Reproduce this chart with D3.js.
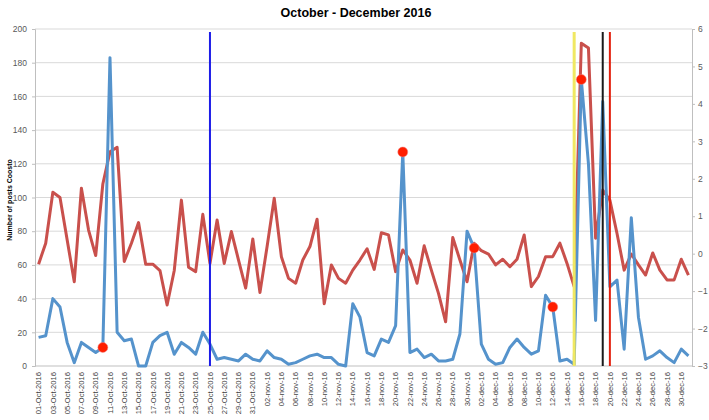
<!DOCTYPE html>
<html>
<head>
<meta charset="utf-8">
<script src="https://cdn.jsdelivr.net/npm/d3@7"></script>
<style>
body { margin: 0; background: #fff; }
text { font-family: "Liberation Sans", Arial, sans-serif; }
</style>
</head>
<body>
<script>
// Chart size
var width = 709;
var height = 420;

// Categories: every day from 1 Oct to 31 Dec 2016
var dayFormat = d3.timeFormat("%Y-%m-%d");
var days = d3.timeDay.range(new Date(2016, 9, 1), new Date(2017, 0, 1)).map(dayFormat);

// Tick labels (every second day)
var tickLabels = [
    "01-Oct-2016", "03-Oct-2016", "05-Oct-2016", "07-Oct-2016", "09-Oct-2016", "11-Oct-2016",
    "13-Oct-2016", "15-Oct-2016", "17-Oct-2016", "19-Oct-2016", "21-Oct-2016", "23-Oct-2016",
    "25-Oct-2016", "27-Oct-2016", "29-Oct-2016", "31-Oct-2016",
    "02-nov-16", "04-nov-16", "06-nov-16", "08-nov-16", "10-nov-16", "12-nov-16", "14-nov-16",
    "16-nov-16", "18-nov-16", "20-nov-16", "22-nov-16", "24-nov-16", "26-nov-16", "28-nov-16", "30-nov-16",
    "02-dec-16", "04-dec-16", "06-dec-16", "08-dec-16", "10-dec-16", "12-dec-16", "14-dec-16",
    "16-dec-16", "18-dec-16", "20-dec-16", "22-dec-16", "24-dec-16", "26-dec-16", "28-dec-16", "30-dec-16"
];

// Number of posts (left axis)
var posts = [
    17, 18, 40, 35, 14, 2, 14, 11, 8, 11, 183, 20, 15, 16, 0, 0, 14, 18, 20, 7,
    14, 11, 7, 20, 13, 4, 5, 4, 3, 7, 4, 3, 9, 5, 4, 1, 2, 4, 6, 7,
    5, 5, 1, 0, 37, 29, 8, 6, 16, 14, 24, 127, 8, 10, 5, 7, 3, 3, 4, 19,
    80, 70, 13, 4, 1, 2, 11, 16, 11, 7, 9, 42, 35, 3, 4, 1, 170, 120, 27, 157,
    47, 51, 10, 88, 29, 4, 6, 9, 5, 2, 10, 6
];

// Second series (right axis)
var secondSeries = [
    -0.28, 0.28, 1.64, 1.5, 0.37, -0.75, 1.75, 0.63, -0.05, 1.86, 2.72, 2.84, -0.21, 0.28, 0.83, -0.28,
    -0.28, -0.45, -1.37, -0.45, 1.43, -0.36, -0.48, 1.05, -0.26, 0.9, -0.26, 0.59, -0.17, -0.92, 0.39, -1.04,
    0.19, 1.48, -0.08, -0.66, -0.79, -0.17, 0.19, 0.92, -1.34, -0.3, -0.66, -0.79, -0.44, -0.17, 0.13, -0.42,
    0.56, 0.5, -0.48, 0.1, -0.17, -0.79, 0.21, -0.44, -1.06, -1.82, 0.43, -0.17, -0.75, 0.28, 0.08, -0.01,
    -0.3, -0.15, -0.35, -0.15, 0.5, -0.88, -0.61, -0.08, -0.08, 0.28, -0.26, -0.88, 5.62, 5.49, 0.41, 1.7,
    1.43, 0.54, -0.44, -0.01, -0.3, -0.57, 0.02, -0.44, -0.7, -0.7, -0.15, -0.57
];

// Event lines and marked days
var eventDates = ["2016-10-25", "2016-12-15", "2016-12-19", "2016-12-20"];
var eventColors = ["#1c1ce8", "#f0e862", "#1a1a1a", "#e3200e"];
var markerDates = ["2016-10-10", "2016-11-21", "2016-12-01", "2016-12-12", "2016-12-16"];

var svg = d3.select("body")
            .append("svg")
            .attr("width", width)
            .attr("height", height);

// Scales
var x = d3.scaleBand().domain(days).range([35, 692]);
var yLeft = d3.scaleLinear().domain([0, 200]).range([366, 29]);
var yRight = d3.scaleLinear().domain([-3, 6]).range([366, 29]);
var cx = function(d) { return x(d) + x.bandwidth() / 2; };

// Title
svg.append("text")
    .attr("x", 356)
    .attr("y", 17)
    .attr("text-anchor", "middle")
    .style("font-weight", "bold")
    .style("font-size", "12.5px")
    .style("fill", "#000")
    .text("October - December 2016");

// Gridlines
svg.append("g")
    .selectAll("line")
    .data(d3.range(20, 201, 20))
    .enter()
    .append("line")
    .attr("x1", 35)
    .attr("x2", 692)
    .attr("y1", function(d) { return yLeft(d); })
    .attr("y2", function(d) { return yLeft(d); })
    .style("stroke", "#d9d9d9");

// Left axis
var leftAxis = svg.append("g")
    .attr("transform", "translate(35,0)")
    .call(d3.axisLeft(yLeft).tickValues(d3.range(0, 201, 20)).tickSize(3).tickPadding(5));

// Right axis
var rightAxis = svg.append("g")
    .attr("transform", "translate(692,0)")
    .call(d3.axisRight(yRight).tickValues(d3.range(-3, 7, 1)).tickSize(3).tickPadding(3));

[leftAxis, rightAxis].forEach(function(a) {
    a.select(".domain").style("stroke", "#bfbfbf");
    a.selectAll(".tick line").style("stroke", "#bfbfbf");
    a.selectAll(".tick text")
        .style("font-family", "'Liberation Sans', Arial, sans-serif")
        .style("font-size", "8.5px")
        .style("fill", "#595959");
});

// Bottom axis line
svg.append("line")
    .attr("x1", 35)
    .attr("x2", 692)
    .attr("y1", yLeft(0))
    .attr("y2", yLeft(0))
    .style("stroke", "#bfbfbf");

// X tick labels, rotated
svg.append("g")
    .selectAll("text")
    .data(tickLabels)
    .enter()
    .append("text")
    .attr("transform", function(d, i) {
        return "translate(" + cx(days[i * 2]) + ",372) rotate(-90)";
    })
    .attr("dy", "0.35em")
    .attr("text-anchor", "end")
    .style("font-size", "7.6px")
    .style("fill", "#404040")
    .text(function(d) { return d; });

// Y axis title
svg.append("text")
    .attr("transform", "translate(12,200) rotate(-90)")
    .attr("text-anchor", "middle")
    .style("font-size", "7px")
    .style("font-weight", "bold")
    .style("fill", "#000")
    .text("Number of posts Coosto");

// Lines
var postsLine = d3.line()
    .x(function(d, i) { return cx(days[i]); })
    .y(function(d) { return yLeft(d); });

var secondLine = d3.line()
    .x(function(d, i) { return cx(days[i]); })
    .y(function(d) { return yRight(d); });

svg.append("path")
    .datum(secondSeries)
    .attr("d", secondLine)
    .style("fill", "none")
    .style("stroke", "#c9504c")
    .style("stroke-width", 3)
    .style("stroke-linejoin", "round");

svg.append("path")
    .datum(posts)
    .attr("d", postsLine)
    .style("fill", "none")
    .style("stroke", "#5593cc")
    .style("stroke-width", 3)
    .style("stroke-linejoin", "round");

// Event lines
svg.append("g")
    .selectAll("line")
    .data(eventDates)
    .enter()
    .append("line")
    .attr("x1", function(d) { return cx(d); })
    .attr("x2", function(d) { return cx(d); })
    .attr("y1", 32)
    .attr("y2", yLeft(0))
    .style("stroke", function(d, i) { return eventColors[i]; })
    .style("stroke-width", function(d, i) { return i == 1 ? 3 : 2; });

// Red markers on the posts line
svg.append("g")
    .selectAll("circle")
    .data(markerDates)
    .enter()
    .append("circle")
    .attr("cx", function(d) { return cx(d); })
    .attr("cy", function(d) { return yLeft(posts[days.indexOf(d)]); })
    .attr("r", 5)
    .style("fill", "#ff1e00")
    .style("stroke", "#e88")
    .style("stroke-width", 0.5);
</script>
</body>
</html>
